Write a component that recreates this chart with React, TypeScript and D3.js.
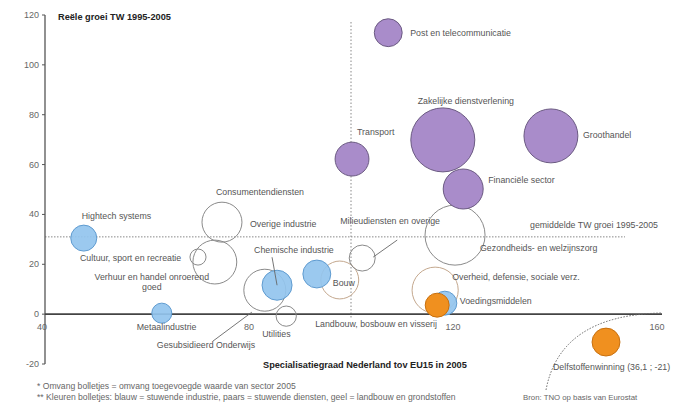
import React from "react";
import * as d3 from "d3";

// ---- data ----
const sectors = [
  "Post en telecommunicatie",
  "Zakelijke dienstverlening",
  "Groothandel",
  "Transport",
  "Financiële sector",
  "Hightech systems",
  "Metaalindustrie",
  "Chemische industrie",
  "Elektrotechnische industrie",
  "Bouw",
  "Milieudiensten en overige",
  "Gezondheids- en welzijnszorg",
  "Overheid, defensie, sociale verz.",
  "Voedingsmiddelen",
  "Landbouw, bosbouw en visserij",
  "Delfstoffenwinning",
  "Consumentendiensten",
  "Verhuur en handel onroerend goed",
  "Cultuur, sport en recreatie",
  "Gesubsidieerd Onderwijs",
  "Utilities",
];
const specialisation = [107.3, 118.0, 139.2, 100.2, 122.0, 47.6, 62.9, 85.5, 93.3, 97.8, 102.2, 120.4, 116.5, 118.4, 116.9, 150.0, 74.7, 73.3, 70.0, 83.1, 87.3];
const growth = [112.9, 69.9, 71.5, 62.2, 50.2, 30.5, 0.4, 11.6, 16.1, 13.7, 22.5, 31.7, 9.6, 4.4, 3.6, -11.2, 36.9, 20.9, 22.9, 9.6, -0.8];
const valueAdded = [19, 100, 71, 28, 39, 16.5, 9.8, 22, 19, 35, 16.5, 88, 52, 14, 14, 19, 39, 47, 6.3, 43, 10];
const group = ["d", "d", "d", "d", "d", "i", "i", "i", "i", "o", "o", "o", "o", "i", "g", "g", "o", "o", "o", "o", "o"];

const xTicks = [40, 80, 120, 160];
const yTicks = [-20, 0, 20, 40, 60, 80, 100, 120];
const averageGrowth = 31;
const averageSpec = 100;

const yTitle = "Reële groei TW 1995-2005";
const xTitle = "Specialisatiegraad Nederland tov  EU15 in 2005";
const avgLabel = "gemiddelde TW groei 1995-2005";
const footnotes = [
  "* Omvang bolletjes = omvang toegevoegde waarde van sector 2005",
  "** Kleuren bolletjes: blauw = stuwende industrie, paars = stuwende diensten, geel = landbouw en grondstoffen",
];
const source = "Bron: TNO op basis van Eurostat";

// label layout: offsets from bubble centre
type Lbl = { i: number; t: string[]; dx: number; dy: number; a?: string; lead?: [number, number, number, number] };
const labels: Lbl[] = [
  { i: 0, t: ["Post en telecommunicatie"], dx: 22, dy: 3 },
  { i: 1, t: ["Zakelijke dienstverlening"], dx: 23, dy: -36, a: "middle" },
  { i: 2, t: ["Groothandel"], dx: 32, dy: 2 },
  { i: 3, t: ["Transport"], dx: 5, dy: -24 },
  { i: 4, t: ["Financiële sector"], dx: 25, dy: -6 },
  { i: 5, t: ["Hightech systems"], dx: -2, dy: -19 },
  { i: 6, t: ["Metaalindustrie"], dx: -25, dy: 17 },
  { i: 7, t: ["Chemische industrie"], dx: -23, dy: -32, lead: [-5, -28, 0, 0] },
  { i: 9, t: ["Bouw"], dx: -7, dy: 6 },
  { i: 10, t: ["Milieudiensten en overige"], dx: -22, dy: -34, lead: [35, -18, 11, -1] },
  { i: 11, t: ["Gezondheids- en welzijnszorg"], dx: 25, dy: 16 },
  { i: 12, t: ["Overheid, defensie, sociale verz."], dx: 17, dy: -10 },
  { i: 13, t: ["Voedingsmiddelen"], dx: 15, dy: 1 },
  { i: 14, t: ["Landbouw, bosbouw en visserij"], dx: -122, dy: 22 },
  { i: 15, t: ["Delfstoffenwinning (36,1 ; -21)"], dx: -53, dy: 28 },
  { i: 16, t: ["Consumentendiensten"], dx: -6, dy: -27 },
  { i: 16, t: ["Overige industrie"], dx: 28, dy: 5 },
  { i: 17, t: ["Verhuur en handel onroerend", "goed"], dx: -63, dy: 18, a: "middle" },
  { i: 18, t: ["Cultuur, sport en recreatie"], dx: -118, dy: 4 },
  { i: 19, t: ["Gesubsidieerd Onderwijs"], dx: -108, dy: 58, lead: [-52, 51, -13, 22] },
  { i: 20, t: ["Utilities"], dx: -24, dy: 21 },
];

const fillOf: Record<string, string> = { d: "#a98cca", i: "#92c4ee", g: "#f0901f", o: "none" };
const strokeOf: Record<string, string> = { d: "#6b5a82", i: "#5f9bd0", g: "#c8700f", o: "#8a8a8a" };
const order: Record<string, number> = { o: 0, i: 1, g: 2, d: 3 };

export default function App() {
  const W = 684, H = 406;
  const x = d3.scaleLinear().domain([40, 160]).range([45, 657]);
  const y = d3.scaleLinear().domain([-20, 120]).range([364, 15]);
  const r = d3.scaleSqrt().domain([0, 100]).range([0, 32]);
  const font = "'Liberation Sans', Arial, sans-serif";
  const fs = 8.8;

  const idx = d3.range(sectors.length).sort((a, b) => {
    const d = order[group[a]] - order[group[b]];
    return d !== 0 ? d : valueAdded[b] - valueAdded[a];
  });

  const y0 = y(0);
  return (
    <svg width={W} height={H} style={{ position: "absolute", left: 0, top: 0, background: "#fff" }} fontFamily={font}>
      {/* reference lines */}
      <line x1={x(averageSpec)} x2={x(averageSpec)} y1={22} y2={318} stroke="#888" strokeWidth={1} strokeDasharray="1.5,2" />
      <line x1={x(40)} x2={625} y1={y(averageGrowth)} y2={y(averageGrowth)} stroke="#888" strokeWidth={1} strokeDasharray="1.5,1.5" />
      <text x={530} y={228} fontSize={fs} fill="#555">{avgLabel}</text>

      {/* axes */}
      <line x1={x(40)} x2={x(40)} y1={y(120)} y2={y(-20)} stroke="#555" strokeWidth={1.3} />
      {yTicks.map((t) => (
        <g key={t}>
          <line x1={x(40) - 3} x2={x(40)} y1={y(t)} y2={y(t)} stroke="#555" />
          <text x={39} y={y(t) + 3} fontSize={9} fill="#666" textAnchor="end">{t}</text>
        </g>
      ))}
      <line x1={x(40)} x2={662} y1={y0} y2={y0} stroke="#444" strokeWidth={1.6} />
      {xTicks.map((t) => (
        <text key={t} x={x(t) - (t === 40 ? 3 : 0)} y={y0 + 16} fontSize={9} fill="#666" textAnchor="middle">{t}</text>
      ))}

      {/* axis break arc */}
      <path d="M546,390 Q560,315 662,313" fill="none" stroke="#666" strokeWidth={1} strokeDasharray="1.5,1.5" />

      {/* bubbles */}
      {idx.map((i) => (
        <circle
          key={i}
          cx={x(specialisation[i])}
          cy={y(growth[i])}
          r={r(valueAdded[i])}
          fill={fillOf[group[i]]}
          fillOpacity={group[i] === "i" ? 0.92 : 1}
          stroke={i === 9 || i === 12 ? "#c4a88e" : strokeOf[group[i]]}
          strokeWidth={1}
        />
      ))}

      {/* labels */}
      {labels.map((l, k) => {
        const cx = x(specialisation[l.i]);
        const cy = y(growth[l.i]);
        return (
          <g key={k}>
            {l.lead && (
              <line x1={cx + l.lead[0]} y1={cy + l.lead[1]} x2={cx + l.lead[2]} y2={cy + l.lead[3]} stroke="#666" strokeWidth={0.9} />
            )}
            {l.t.map((s, j) => (
              <text key={j} x={cx + l.dx} y={cy + l.dy + j * 10} fontSize={fs} fill="#555" textAnchor={l.a || "start"}>{s}</text>
            ))}
          </g>
        );
      })}

      {/* titles */}
      <text x={58} y={20} fontSize={9.2} fontWeight="bold" fill="#222">{yTitle}</text>
      <text x={263} y={368} fontSize={9.2} fontWeight="bold" fill="#222">{xTitle}</text>
      {footnotes.map((f, i) => (
        <text key={i} x={37} y={389 + i * 11} fontSize={8.6} fill="#666">{f}</text>
      ))}
      <text x={523} y={400} fontSize={7.8} fill="#666">{source}</text>
    </svg>
  );
}
